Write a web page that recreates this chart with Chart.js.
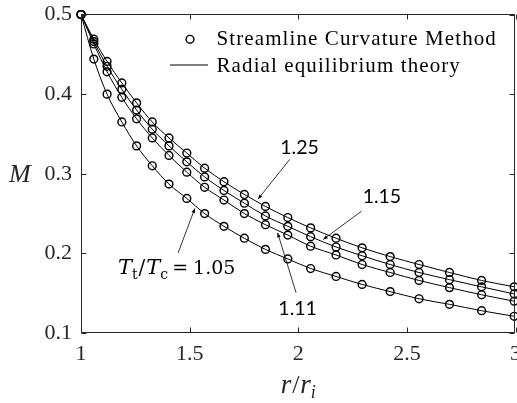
<!DOCTYPE html>
<html><head><meta charset="utf-8">
<script src="https://cdn.jsdelivr.net/npm/chart.js@4/dist/chart.umd.min.js"></script>
<style>html,body{margin:0;padding:0;background:#fff;overflow:hidden}canvas{display:block}</style>
</head><body>
<canvas id="c" width="517" height="403"></canvas>
<script>
// ---- data ----
const radiusRatio = [1.000,1.059,1.120,1.188,1.256,1.328,1.405,1.487,1.569,1.658,1.752,1.849,1.952,2.057,2.174,2.294,2.423,2.556,2.696,2.844,2.994];
const mach125 = [0.500,0.469,0.441,0.414,0.389,0.365,0.345,0.326,0.307,0.290,0.274,0.259,0.245,0.232,0.219,0.207,0.196,0.186,0.176,0.166,0.158];
const mach115 = [0.500,0.466,0.435,0.406,0.380,0.356,0.335,0.315,0.296,0.279,0.263,0.247,0.234,0.221,0.208,0.197,0.186,0.176,0.167,0.158,0.149];
const mach111 = [0.500,0.463,0.428,0.396,0.369,0.345,0.323,0.302,0.283,0.267,0.250,0.236,0.223,0.209,0.198,0.186,0.176,0.166,0.157,0.148,0.140];
const mach105 = [0.500,0.444,0.400,0.365,0.335,0.310,0.287,0.269,0.250,0.234,0.219,0.205,0.193,0.181,0.171,0.161,0.152,0.143,0.136,0.128,0.121];
const temperatureRatios = ['1.25','1.15','1.11','1.05'];
const xTickValues = [1,1.5,2,2.5,3];
const yTickValues = [0.1,0.2,0.3,0.4,0.5];
const xTickLabels = ['1','1.5','2','2.5','3'];
const yTickLabels = ['0.1','0.2','0.3','0.4','0.5'];
const legendLabels = ['Streamline Curvature Method','Radial equilibrium theory'];

// annotation anchors in data units
const annotations = [
  {text:temperatureRatios[0], at:[2.006,0.3248], from:[1.961,0.3181], to:[1.815,0.2682]},
  {text:temperatureRatios[1], at:[2.385,0.2628], from:[2.292,0.2531], to:[2.115,0.2175]},
  {text:temperatureRatios[2], at:[1.997,0.1223], from:[1.990,0.1506], to:[1.905,0.2258]},
  {text:temperatureRatios[3], at:[1.170,0.1747], from:[1.447,0.2006], to:[1.524,0.2565], ratio:true}
];

const seriesValues = [mach125, mach115, mach111, mach105];
const INK = '#262626';
const datasets = [];
seriesValues.forEach((vals, i) => {
  const pts = radiusRatio.map((x, j) => ({x, y: vals[j]}));
  datasets.push({label: i === 0 ? legendLabels[0] : '', data: pts, showLine:false,
    pointRadius:3.9, pointHoverRadius:3.9, pointBorderWidth:1.45, pointBorderColor:'#000',
    pointBackgroundColor:'rgba(0,0,0,0)', clip:false, order:0});
  datasets.push({label: i === 0 ? legendLabels[1] : '', data: pts, showLine:true,
    pointRadius:0, borderColor:'#000', borderWidth:1, cubicInterpolationMode:'monotone',
    fill:false, order:1});
});

function arrow(ctx, x1, y1, x2, y2){
  ctx.beginPath(); ctx.moveTo(x1,y1); ctx.lineTo(x2,y2); ctx.stroke();
  const a = Math.atan2(y2-y1, x2-x1), L = 4.5, W = 1.8;
  ctx.beginPath();
  ctx.moveTo(x2,y2);
  ctx.lineTo(x2 - L*Math.cos(a) + W*Math.sin(a), y2 - L*Math.sin(a) - W*Math.cos(a));
  ctx.lineTo(x2 - L*Math.cos(a) - W*Math.sin(a), y2 - L*Math.sin(a) + W*Math.cos(a));
  ctx.closePath(); ctx.fill();
}

const decor = {
  id:'decor',
  afterDraw(chart){
    const ctx = chart.ctx, a = chart.chartArea, xs = chart.scales.x, ys = chart.scales.y;
    ctx.save();
    // box
    ctx.strokeStyle = INK; ctx.lineWidth = 1;
    const L = Math.floor(a.left)+0.5, R = Math.floor(a.right)-0.5, T = Math.floor(a.top)+0.5, B = Math.floor(a.bottom)-0.5;
    ctx.strokeRect(L, T, R-L, B-T);
    // inward ticks on all sides
    ctx.beginPath();
    xTickValues.forEach(v => { const p = Math.round(xs.getPixelForValue(v))+0.5;
      ctx.moveTo(p,B); ctx.lineTo(p,B-5); ctx.moveTo(p,T); ctx.lineTo(p,T+5); });
    yTickValues.forEach(v => { const p = Math.round(ys.getPixelForValue(v))+0.5;
      ctx.moveTo(L,p); ctx.lineTo(L+5,p); ctx.moveTo(R,p); ctx.lineTo(R-5,p); });
    ctx.stroke();
    // axis titles
    ctx.fillStyle = INK; ctx.textBaseline = 'alphabetic'; ctx.textAlign = 'left';
    ctx.font = 'italic 26px "Liberation Serif"';
    ctx.fillText('M', a.left - 72, (a.top + a.bottom)/2 + 8);
    const parts = [['r','italic 27px "Liberation Serif"',0,1],['/','26px "Liberation Serif"',0,1],['r','italic 27px "Liberation Serif"',0,0],['i','italic 18px "Liberation Serif"',5,0]];
    let w = 0; parts.forEach(p => { ctx.font = p[1]; w += ctx.measureText(p[0]).width + p[3]; });
    let cx = (a.left + a.right)/2 - w/2;
    parts.forEach(p => { ctx.font = p[1]; ctx.fillText(p[0], cx, a.bottom + 60 + p[2]); cx += ctx.measureText(p[0]).width + p[3]; });
    // legend
    ctx.strokeStyle = '#000'; ctx.lineWidth = 1.45;
    ctx.beginPath(); ctx.arc(a.left + 109, a.top + 24.8, 3.9, 0, Math.PI*2); ctx.stroke();
    ctx.lineWidth = 1;
    ctx.beginPath(); ctx.moveTo(a.left + 89, a.top + 50.5); ctx.lineTo(a.left + 127, a.top + 50.5); ctx.stroke();
    ctx.fillStyle = '#000';
    ctx.font = '21px "Liberation Serif"';
    ctx.letterSpacing = '1.1px';
    ctx.fillText(legendLabels[0], a.left + 135.5, a.top + 30.5);
    ctx.fillText(legendLabels[1], a.left + 135.5, a.top + 57);
    ctx.letterSpacing = '0px';
    // annotations
    ctx.fillStyle = '#000'; ctx.strokeStyle = '#000'; ctx.lineWidth = 0.8;
    annotations.forEach(an => {
      arrow(ctx, xs.getPixelForValue(an.from[0]), ys.getPixelForValue(an.from[1]),
                 xs.getPixelForValue(an.to[0]), ys.getPixelForValue(an.to[1]));
      const tx = xs.getPixelForValue(an.at[0]), ty = ys.getPixelForValue(an.at[1]);
      if (!an.ratio) {
        ctx.font = '19.5px Lato'; ctx.textAlign = 'center';
        ctx.fillText(an.text, tx, ty);
      } else {
        ctx.textAlign = 'left';
        const seq = [['T','italic 21px "DejaVu Serif"',0,0],['t','14px "DejaVu Serif"',5,1],['/','20px "DejaVu Serif"',0,1],
                     ['T','italic 21px "DejaVu Serif"',0,0],['c','14px "DejaVu Serif"',5,4],['=','19px "DejaVu Serif"',0,5],[an.text,'19px "DejaVu Serif"',0,0]];
        let x = tx;
        seq.forEach(s => { ctx.font = s[1]; ctx.fillText(s[0], x, ty + s[2]); x += ctx.measureText(s[0]).width + s[3]; });
      }
    });
    ctx.restore();
  }
};

new Chart(document.getElementById('c'), {
  type:'scatter',
  data:{datasets},
  options:{
    responsive:false, animation:false, devicePixelRatio:1,
    layout:{autoPadding:false, padding:{top:14.5, right:1.5, left:0, bottom:0}},
    plugins:{legend:{display:false}, tooltip:{enabled:false}},
    scales:{
      x:{type:'linear', min:1, max:3,
        afterBuildTicks:s => { s.ticks = xTickValues.map(v => ({value:v})); },
        afterFit:s => { s.height = 70; s.paddingLeft = 0; s.paddingRight = 0; },
        grid:{display:false, drawTicks:false}, border:{display:false},
        ticks:{color:INK, padding:8, font:{family:'"Liberation Serif"', size:22}, maxRotation:0, autoSkip:false,
          callback:(v) => xTickLabels[xTickValues.indexOf(v)] ?? String(v)}},
      y:{type:'linear', min:0.1, max:0.5,
        afterBuildTicks:s => { s.ticks = yTickValues.map(v => ({value:v})); },
        afterFit:s => { s.width = 81; s.paddingTop = 0; s.paddingBottom = 0; },
        grid:{display:false, drawTicks:false}, border:{display:false},
        ticks:{color:INK, padding:9, font:{family:'"Liberation Serif"', size:22}, autoSkip:false,
          callback:(v) => yTickLabels[yTickValues.indexOf(v)] ?? String(v)}}
    }
  },
  plugins:[decor]
});
</script>
</body></html>
